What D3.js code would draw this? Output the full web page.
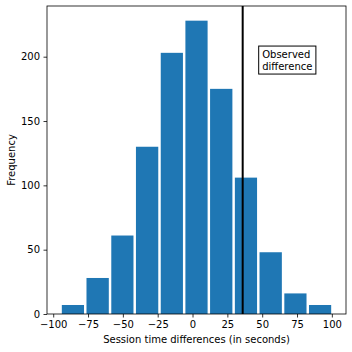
<!DOCTYPE html>
<html>
<head>
<meta charset="utf-8">
<script src="https://cdn.jsdelivr.net/npm/d3@7"></script>
<style>
  body { margin: 0; background: #fff; }
  text { font-family: "DejaVu Sans", sans-serif; }
</style>
</head>
<body>
<div id="chart"></div>
<script>
// histogram bin edges and counts
const binEdges = [-94.7, -77.0, -59.2, -41.5, -23.7, -6.0, 11.7, 29.5, 47.2, 65.0, 82.7, 100.4];
const counts = [7, 28, 61, 130, 203, 228, 175, 106, 48, 16, 7];
const xTicks = [-100, -75, -50, -25, 0, 25, 50, 75, 100];
const yTicks = [0, 50, 100, 150, 200];
const observed = 36;
const labelPos = [50, 190];
const labelLines = ["Observed", "difference"];

const width = 352;
const height = 352;
const margin = { top: 6, right: 6, bottom: 38, left: 47 };
const innerW = width - margin.left - margin.right;
const innerH = height - margin.top - margin.bottom;

const bins = counts.map((c, i) => ({ x0: binEdges[i], x1: binEdges[i + 1], count: c }));

// matplotlib style autoscale with 5% margins
const span = binEdges[binEdges.length - 1] - binEdges[0];
const x = d3.scaleLinear()
  .domain([binEdges[0] - span * 0.05, binEdges[binEdges.length - 1] + span * 0.05])
  .range([0, innerW]);
const y = d3.scaleLinear()
  .domain([0, d3.max(counts) * 1.05])
  .range([innerH, 0]);

const svg = d3.select("#chart")
  .append("svg")
  .attr("width", width)
  .attr("height", height);

const g = svg.append("g")
  .attr("transform", `translate(${margin.left},${margin.top})`);

// bars, rwidth 0.9
g.selectAll("rect.bar")
  .data(bins)
  .join("rect")
  .attr("class", "bar")
  .attr("x", (d) => x(d.x0 + (d.x1 - d.x0) * 0.05))
  .attr("width", (d) => x(d.x1) - x(d.x0) - (x(d.x1) - x(d.x0)) * 0.1)
  .attr("y", (d) => y(d.count))
  .attr("height", (d) => y(0) - y(d.count))
  .attr("fill", "#1f77b4");

// observed difference line
g.append("line")
  .attr("x1", x(observed))
  .attr("x2", x(observed))
  .attr("y1", 0)
  .attr("y2", innerH)
  .attr("stroke", "#000")
  .attr("stroke-width", 2);

// text box
const label = g.append("g");
const labelText = label.append("text")
  .attr("x", x(labelPos[0]))
  .attr("y", y(labelPos[1]))
  .style("font-size", "10px")
  .attr("fill", "#000");
labelLines.forEach((t, i) => {
  labelText.append("tspan")
    .attr("x", x(labelPos[0]))
    .attr("dy", i === 0 ? -12 : 12)
    .text(t);
});
const bb = labelText.node().getBBox();
label.insert("rect", "text")
  .attr("x", bb.x - 3.5)
  .attr("y", bb.y - 2.5)
  .attr("width", bb.width + 7)
  .attr("height", bb.height + 5)
  .attr("fill", "#fff")
  .attr("stroke", "#000")
  .attr("stroke-width", 1);

// axes
const xAxis = g.append("g")
  .attr("transform", `translate(0,${innerH})`)
  .call(d3.axisBottom(x).tickValues(xTicks).tickSize(3.5).tickPadding(3.5)
    .tickFormat((d) => d3.format("")(d).replace("-", "\u2212")));
const yAxis = g.append("g")
  .call(d3.axisLeft(y).tickValues(yTicks).tickSize(3.5).tickPadding(3.5));

[xAxis, yAxis].forEach((a) => {
  a.select(".domain").remove();
  a.selectAll("line").attr("stroke", "#000").attr("stroke-width", 0.8);
  a.selectAll("text").style("font-size", "10px").attr("fill", "#000")
    .style("font-family", "DejaVu Sans, sans-serif");
});

// spines
g.append("rect")
  .attr("x", 0)
  .attr("y", 0)
  .attr("width", innerW)
  .attr("height", innerH)
  .attr("fill", "none")
  .attr("stroke", "#000")
  .attr("stroke-width", 0.8);

// axis labels
svg.append("text")
  .attr("x", margin.left + innerW / 2)
  .attr("y", 343)
  .attr("text-anchor", "middle")
  .style("font-size", "10px")
  .text("Session time differences (in seconds)");

svg.append("text")
  .attr("transform", `translate(15,${margin.top + innerH / 2}) rotate(-90)`)
  .attr("text-anchor", "middle")
  .style("font-size", "10px")
  .text("Frequency");
</script>
</body>
</html>
